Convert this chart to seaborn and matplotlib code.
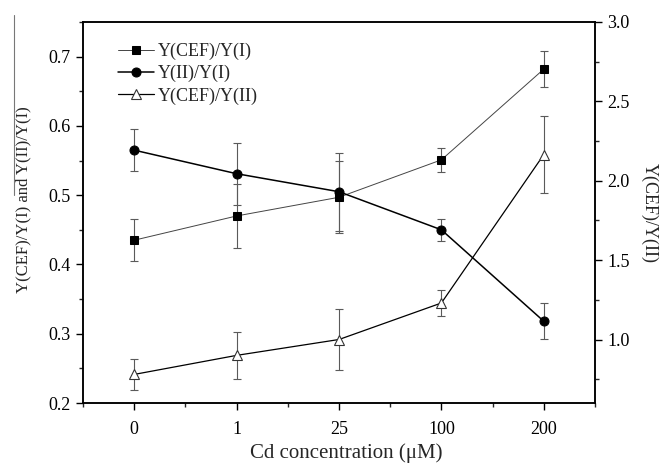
import numpy as np
import pandas as pd
import matplotlib
matplotlib.use("Agg")
import matplotlib.pyplot as plt
import seaborn as sns
from matplotlib.ticker import MultipleLocator, FixedLocator, FormatStrFormatter
from matplotlib.lines import Line2D

# ---- data ----
conc_labels = ["0", "1", "25", "100", "200"]
cef_i = [0.435, 0.470, 0.497, 0.551, 0.682]
cef_i_err = [0.030, 0.046, 0.052, 0.017, 0.026]
ii_i = [0.565, 0.531, 0.505, 0.450, 0.318]
ii_i_err = [0.030, 0.045, 0.056, 0.016, 0.026]
cef_ii = [0.78, 0.90, 1.00, 1.23, 2.165]
cef_ii_err = [0.095, 0.15, 0.19, 0.08, 0.24]

series_names = ["Y(CEF)/Y(I)", "Y(II)/Y(I)", "Y(CEF)/Y(II)"]
x_label = "Cd concentration (\u03bcM)"
y_label_left = "Y(CEF)/Y(I) and Y(II)/Y(I)"
y_label_right = "Y(CEF)/Y(II)"

pos = np.arange(len(conc_labels))
df = pd.DataFrame({"pos": pos, "cef_i": cef_i, "ii_i": ii_i, "cef_ii": cef_ii})

sns.set_style("ticks")
plt.rcParams["font.family"] = ["Liberation Serif", "DejaVu Serif"]

fig = plt.figure(figsize=(6.6, 4.65), dpi=100)
ax = fig.add_axes([83 / 660, 1 - 403 / 465, (595 - 83) / 660, (403 - 22) / 465])
ax2 = ax.twinx()

err_kw = dict(fmt="none", ecolor="#5a5a5a", elinewidth=0.8, capsize=3, capthick=0.8)

ax.errorbar(pos, cef_i, yerr=cef_i_err, zorder=1, **err_kw)
ax.errorbar(pos, ii_i, yerr=ii_i_err, zorder=1, **err_kw)
ax2.errorbar(pos, cef_ii, yerr=cef_ii_err, zorder=1, **err_kw)

sns.lineplot(data=df, x="pos", y="cef_i", ax=ax, color="#444444", linewidth=0.7,
             marker="s", markersize=6, markerfacecolor="black", markeredgecolor="black",
             label=series_names[0], legend=False, zorder=3)
sns.lineplot(data=df, x="pos", y="ii_i", ax=ax, color="black", linewidth=1.1,
             marker="o", markersize=6.5, markerfacecolor="black", markeredgecolor="black",
             label=series_names[1], legend=False, zorder=3)
sns.lineplot(data=df, x="pos", y="cef_ii", ax=ax2, color="black", linewidth=0.9,
             marker="^", markersize=7.5, markerfacecolor="white", markeredgecolor="#333333",
             markeredgewidth=0.8, label=series_names[2], legend=False, zorder=3)

ax.set_xlim(-0.5, 4.5)
ax.set_ylim(0.2, 0.75)
ax2.set_ylim(0.6, 3.0)

ax.set_xticks(pos)
ax.set_xticklabels(conc_labels)
ax.xaxis.set_minor_locator(FixedLocator(np.arange(-0.5, 4.6, 1.0)))
ax.yaxis.set_major_locator(FixedLocator([0.2, 0.3, 0.4, 0.5, 0.6, 0.7]))
ax.yaxis.set_minor_locator(MultipleLocator(0.05))
ax2.yaxis.set_major_locator(FixedLocator([1.0, 1.5, 2.0, 2.5, 3.0]))
ax2.yaxis.set_minor_locator(MultipleLocator(0.25))
ax.yaxis.set_major_formatter(FormatStrFormatter("%.1f"))
ax2.yaxis.set_major_formatter(FormatStrFormatter("%.1f"))

for a in (ax, ax2):
    a.tick_params(which="major", direction="out", length=5, width=1.0, labelsize=13, colors="black")
    a.tick_params(which="minor", direction="out", length=3, width=1.0)
    for s in a.spines.values():
        s.set_linewidth(1.1)
        s.set_color("black")
        s.set_visible(True)
ax.tick_params(axis="x", which="both", top=False)
ax.tick_params(axis="y", which="both", right=False)
ax2.tick_params(axis="y", which="both", left=False, right=True)
ax.tick_params(axis="x", pad=8)
ax.tick_params(axis="y", pad=4)
ax2.tick_params(axis="y", pad=4)

ax.set_xlabel(x_label, fontsize=15)
ax.xaxis.set_label_coords(0.515, -0.105)
ax.set_ylabel(y_label_left, fontsize=12)
ax.yaxis.set_label_coords(-0.10, 0.533)
ax2.set_ylabel(y_label_right, fontsize=13, rotation=270, labelpad=20)

h1, l1 = ax.get_legend_handles_labels()
h2, l2 = ax2.get_legend_handles_labels()
ax.legend(h1 + h2, l1 + l2, loc="upper left", bbox_to_anchor=(0.068, 0.945),
          frameon=False, fontsize=13, handlelength=2.0, handletextpad=0.2,
          labelspacing=0.27, borderpad=0, borderaxespad=0, numpoints=1)

# thin vertical line at the left edge of the original image
fig.add_artist(Line2D([14 / 660, 14 / 660], [1 - 15 / 465, 1 - 195 / 465],
                      color="#777777", linewidth=0.8, transform=fig.transFigure))

fig.savefig("out.png", dpi=100)
